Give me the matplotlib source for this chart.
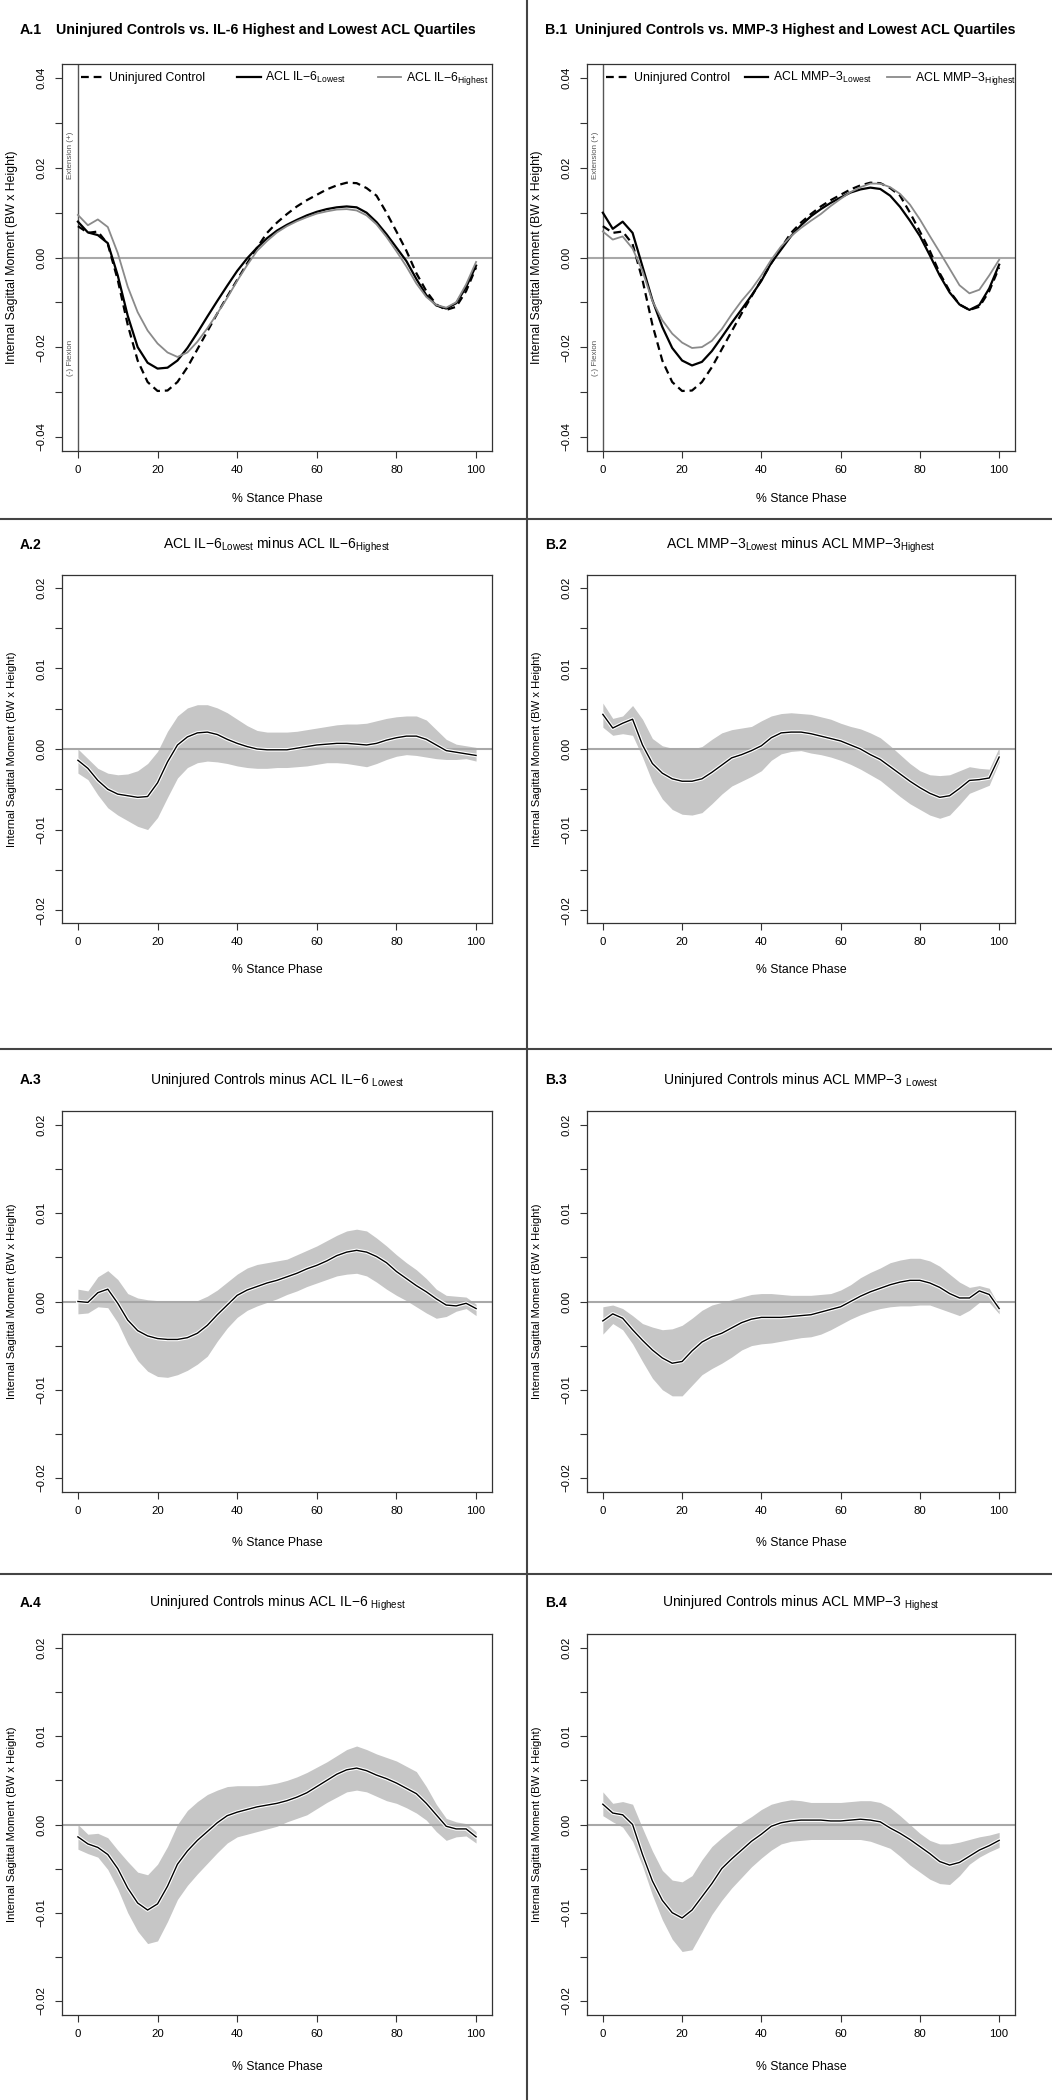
"""
Knee sagittal moment curves: controls vs. ACL IL-6 / MMP-3 quartiles, plus difference bands.
Writes out.png (1052 x 2100).
"""
import matplotlib
matplotlib.use("Agg")
import matplotlib.pyplot as plt
import matplotlib.patheffects as pe
from matplotlib.lines import Line2D

plt.rcParams["font.family"] = ["Liberation Sans", "DejaVu Sans"]
plt.rcParams["mathtext.fontset"] = "custom"
plt.rcParams["mathtext.rm"] = "Liberation Sans"
plt.rcParams["mathtext.it"] = "Liberation Sans:italic"
plt.rcParams["mathtext.bf"] = "Liberation Sans:bold"

W, H = 1052, 2100

# ---- data (% stance every 2.5) ----
stance = [0, 2.5, 5, 7.5, 10, 12.5, 15, 17.5, 20, 22.5, 25, 27.5, 30, 32.5, 35, 37.5, 40,
          42.5, 45, 47.5, 50, 52.5, 55, 57.5, 60, 62.5, 65, 67.5, 70, 72.5, 75, 77.5, 80,
          82.5, 85, 87.5, 90, 92.5, 95, 97.5, 100]

control = [0.0070, 0.0055, 0.0058, 0.0030, -0.0050, -0.0150, -0.0230, -0.0278, -0.0298, -0.0297,
           -0.0278, -0.0245, -0.0205, -0.0165, -0.0125, -0.0087, -0.0050, -0.0013, 0.0022, 0.0055,
           0.0078, 0.0097, 0.0114, 0.0128, 0.0140, 0.0152, 0.0161, 0.0167, 0.0166, 0.0155,
           0.0138, 0.0100, 0.0058, 0.0015, -0.0035, -0.0075, -0.0105, -0.0117, -0.0110, -0.0075,
           -0.0022]
il6_low = [0.0080, 0.0056, 0.0050, 0.0032, -0.0040, -0.0130, -0.0200, -0.0235, -0.0248, -0.0246,
           -0.0230, -0.0202, -0.0168, -0.0132, -0.0097, -0.0063, -0.0030, -0.0002, 0.0022, 0.0043,
           0.0060, 0.0073, 0.0084, 0.0094, 0.0102, 0.0108, 0.0112, 0.0114, 0.0112, 0.0100,
           0.0079, 0.0052, 0.0022, -0.0008, -0.0048, -0.0084, -0.0107, -0.0114, -0.0102, -0.0066,
           -0.0018]
il6_high = [0.0095, 0.0072, 0.0085, 0.0068, 0.0010, -0.0065, -0.0122, -0.0163, -0.0192, -0.0212,
            -0.0222, -0.0212, -0.0188, -0.0158, -0.0125, -0.0090, -0.0052, -0.0017, 0.0015, 0.0037,
            0.0056, 0.0070, 0.0081, 0.0090, 0.0098, 0.0103, 0.0107, 0.0108, 0.0105, 0.0094,
            0.0074, 0.0046, 0.0014, -0.0020, -0.0058, -0.0088, -0.0106, -0.0112, -0.0100, -0.0060,
            -0.0010]
mmp3_low = [0.0100, 0.0064, 0.0080, 0.0055, -0.0020, -0.0095, -0.0155, -0.0202, -0.0230, -0.0241,
            -0.0233, -0.0209, -0.0178, -0.0146, -0.0116, -0.0085, -0.0052, -0.0012, 0.0018, 0.0048,
            0.0072, 0.0092, 0.0108, 0.0122, 0.0134, 0.0145, 0.0152, 0.0156, 0.0153, 0.0138,
            0.0113, 0.0082, 0.0048, 0.0005, -0.0040, -0.0078, -0.0105, -0.0117, -0.0106, -0.0069,
            -0.0016]
mmp3_high = [0.0058, 0.0040, 0.0047, 0.0020, -0.0030, -0.0097, -0.0140, -0.0170, -0.0190, -0.0202,
             -0.0200, -0.0186, -0.0160, -0.0127, -0.0097, -0.0071, -0.0040, -0.0005, 0.0025, 0.0048,
             0.0066, 0.0082, 0.0097, 0.0115, 0.0131, 0.0146, 0.0157, 0.0165, 0.0165, 0.0157,
             0.0142, 0.0118, 0.0085, 0.0048, 0.0012, -0.0025, -0.0062, -0.0080, -0.0072, -0.0040,
             -0.0005]

# A.2  IL-6 lowest minus highest
a2_mean = [-0.0014, -0.0024, -0.0039, -0.0050, -0.0056, -0.0058, -0.0060, -0.0059, -0.0042, -0.0016,
           0.0005, 0.0015, 0.0020, 0.0021, 0.0018, 0.0012, 0.0007, 0.0003, 0.0000, -0.0001,
           -0.0001, -0.0001, 0.0001, 0.0003, 0.0005, 0.0006, 0.0007, 0.0007, 0.0006, 0.0005,
           0.0007, 0.0011, 0.0014, 0.0016, 0.0016, 0.0012, 0.0005, -0.0002, -0.0004, -0.0006,
           -0.0008]
a2_upper = [0.0000, -0.0012, -0.0024, -0.0030, -0.0032, -0.0031, -0.0027, -0.0018, -0.0003, 0.0022,
            0.0041, 0.0051, 0.0055, 0.0055, 0.0051, 0.0045, 0.0037, 0.0029, 0.0023, 0.0021,
            0.0021, 0.0021, 0.0022, 0.0024, 0.0026, 0.0028, 0.0030, 0.0031, 0.0031, 0.0032,
            0.0035, 0.0038, 0.0040, 0.0041, 0.0041, 0.0036, 0.0024, 0.0012, 0.0006, 0.0004,
            0.0002]
a2_lower = [-0.0030, -0.0038, -0.0057, -0.0073, -0.0082, -0.0089, -0.0096, -0.0100, -0.0085, -0.0060,
            -0.0036, -0.0023, -0.0017, -0.0015, -0.0016, -0.0018, -0.0021, -0.0023, -0.0024, -0.0024,
            -0.0023, -0.0023, -0.0022, -0.0021, -0.0019, -0.0017, -0.0017, -0.0018, -0.0020, -0.0022,
            -0.0018, -0.0013, -0.0009, -0.0007, -0.0008, -0.0010, -0.0012, -0.0013, -0.0013, -0.0012,
            -0.0015]

# B.2  MMP-3 lowest minus highest
b2_mean = [0.0043, 0.0026, 0.0032, 0.0037, 0.0005, -0.0018, -0.0030, -0.0037, -0.0040, -0.0040,
           -0.0037, -0.0029, -0.0020, -0.0011, -0.0007, -0.0002, 0.0004, 0.0014, 0.0020, 0.0021,
           0.0021, 0.0019, 0.0016, 0.0013, 0.0010, 0.0005, 0.0000, -0.0007, -0.0013, -0.0022,
           -0.0031, -0.0040, -0.0048, -0.0055, -0.0060, -0.0058, -0.0049, -0.0039, -0.0038, -0.0036,
           -0.0010]
b2_upper = [0.0057, 0.0038, 0.0041, 0.0054, 0.0037, 0.0013, 0.0004, 0.0001, 0.0000, 0.0000,
            0.0003, 0.0012, 0.0020, 0.0024, 0.0026, 0.0028, 0.0035, 0.0041, 0.0044, 0.0045,
            0.0044, 0.0043, 0.0040, 0.0037, 0.0032, 0.0028, 0.0025, 0.0020, 0.0014, 0.0004,
            -0.0007, -0.0018, -0.0027, -0.0032, -0.0033, -0.0032, -0.0027, -0.0022, -0.0024, -0.0025,
            0.0002]
b2_lower = [0.0027, 0.0017, 0.0019, 0.0017, -0.0010, -0.0041, -0.0062, -0.0075, -0.0081, -0.0082,
            -0.0079, -0.0068, -0.0056, -0.0046, -0.0040, -0.0034, -0.0027, -0.0014, -0.0006, -0.0003,
            -0.0002, -0.0005, -0.0007, -0.0010, -0.0014, -0.0019, -0.0025, -0.0032, -0.0039, -0.0049,
            -0.0059, -0.0068, -0.0075, -0.0082, -0.0086, -0.0082, -0.0069, -0.0055, -0.0050, -0.0045,
            -0.0016]

# A.3  controls minus IL-6 lowest
a3_mean = [0.0000, -0.0001, 0.0010, 0.0014, -0.0002, -0.0021, -0.0033, -0.0039, -0.0042, -0.0043,
           -0.0043, -0.0041, -0.0036, -0.0027, -0.0015, -0.0004, 0.0007, 0.0013, 0.0017, 0.0021,
           0.0024, 0.0028, 0.0032, 0.0037, 0.0041, 0.0046, 0.0052, 0.0056, 0.0058, 0.0056,
           0.0051, 0.0044, 0.0034, 0.0026, 0.0018, 0.0011, 0.0003, -0.0004, -0.0005, -0.0002,
           -0.0008]
a3_upper = [0.0014, 0.0012, 0.0028, 0.0035, 0.0025, 0.0009, 0.0004, 0.0002, 0.0001, 0.0000,
            0.0000, 0.0000, 0.0001, 0.0006, 0.0013, 0.0022, 0.0031, 0.0038, 0.0042, 0.0044,
            0.0046, 0.0048, 0.0053, 0.0058, 0.0063, 0.0069, 0.0075, 0.0080, 0.0082, 0.0080,
            0.0072, 0.0063, 0.0053, 0.0044, 0.0036, 0.0026, 0.0014, 0.0007, 0.0006, 0.0005,
            -0.0003]
a3_lower = [-0.0014, -0.0013, -0.0006, -0.0007, -0.0024, -0.0048, -0.0067, -0.0079, -0.0085, -0.0086,
            -0.0083, -0.0078, -0.0071, -0.0062, -0.0045, -0.0030, -0.0018, -0.0010, -0.0005, -0.0001,
            0.0003, 0.0008, 0.0012, 0.0017, 0.0021, 0.0025, 0.0029, 0.0031, 0.0032, 0.0029,
            0.0022, 0.0014, 0.0007, 0.0001, -0.0006, -0.0013, -0.0019, -0.0017, -0.0011, -0.0008,
            -0.0016]

# B.3  controls minus MMP-3 lowest
b3_mean = [-0.0022, -0.0014, -0.0019, -0.0032, -0.0044, -0.0055, -0.0064, -0.0070, -0.0068, -0.0056,
           -0.0046, -0.0040, -0.0036, -0.0030, -0.0024, -0.0020, -0.0018, -0.0018, -0.0018, -0.0017,
           -0.0016, -0.0015, -0.0012, -0.0009, -0.0006, 0.0000, 0.0006, 0.0011, 0.0015, 0.0019,
           0.0022, 0.0024, 0.0024, 0.0021, 0.0016, 0.0009, 0.0004, 0.0004, 0.0012, 0.0008,
           -0.0008]
b3_upper = [-0.0006, -0.0004, -0.0008, -0.0016, -0.0025, -0.0029, -0.0032, -0.0031, -0.0027, -0.0019,
            -0.0010, -0.0004, -0.0001, 0.0002, 0.0005, 0.0008, 0.0009, 0.0009, 0.0008, 0.0007,
            0.0007, 0.0007, 0.0008, 0.0009, 0.0013, 0.0019, 0.0027, 0.0033, 0.0038, 0.0044,
            0.0047, 0.0049, 0.0049, 0.0046, 0.0040, 0.0031, 0.0022, 0.0016, 0.0018, 0.0015,
            -0.0005]
b3_lower = [-0.0037, -0.0025, -0.0032, -0.0048, -0.0068, -0.0087, -0.0100, -0.0107, -0.0107, -0.0095,
            -0.0083, -0.0076, -0.0070, -0.0063, -0.0055, -0.0050, -0.0048, -0.0047, -0.0045, -0.0043,
            -0.0041, -0.0040, -0.0037, -0.0032, -0.0026, -0.0020, -0.0015, -0.0011, -0.0008, -0.0006,
            -0.0005, -0.0005, -0.0004, -0.0004, -0.0008, -0.0012, -0.0016, -0.0010, -0.0001, -0.0001,
            -0.0014]

# A.4  controls minus IL-6 highest
a4_mean = [-0.0014, -0.0022, -0.0026, -0.0034, -0.0050, -0.0072, -0.0089, -0.0097, -0.0090, -0.0070,
           -0.0045, -0.0030, -0.0018, -0.0008, 0.0002, 0.0010, 0.0014, 0.0017, 0.0020, 0.0022,
           0.0024, 0.0027, 0.0031, 0.0036, 0.0043, 0.0050, 0.0057, 0.0062, 0.0064, 0.0061,
           0.0056, 0.0052, 0.0047, 0.0041, 0.0035, 0.0024, 0.0011, -0.0002, -0.0005, -0.0005,
           -0.0014]
a4_upper = [0.0000, -0.0011, -0.0010, -0.0015, -0.0029, -0.0042, -0.0054, -0.0057, -0.0045, -0.0025,
            0.0000, 0.0016, 0.0026, 0.0034, 0.0039, 0.0043, 0.0044, 0.0044, 0.0044, 0.0045,
            0.0047, 0.0050, 0.0054, 0.0059, 0.0065, 0.0071, 0.0078, 0.0085, 0.0089, 0.0085,
            0.0080, 0.0076, 0.0072, 0.0066, 0.0060, 0.0043, 0.0023, 0.0007, 0.0003, 0.0001,
            -0.0008]
a4_lower = [-0.0028, -0.0033, -0.0037, -0.0051, -0.0073, -0.0100, -0.0121, -0.0135, -0.0132, -0.0110,
            -0.0085, -0.0069, -0.0056, -0.0044, -0.0032, -0.0021, -0.0014, -0.0011, -0.0008, -0.0005,
            -0.0002, 0.0003, 0.0007, 0.0011, 0.0018, 0.0025, 0.0031, 0.0037, 0.0039, 0.0037,
            0.0032, 0.0027, 0.0024, 0.0019, 0.0013, 0.0005, -0.0008, -0.0018, -0.0014, -0.0013,
            -0.0021]

# B.4  controls minus MMP-3 highest
b4_mean = [0.0023, 0.0013, 0.0011, 0.0000, -0.0034, -0.0064, -0.0086, -0.0100, -0.0106, -0.0097,
           -0.0082, -0.0067, -0.0050, -0.0039, -0.0029, -0.0019, -0.0011, -0.0002, 0.0002, 0.0004,
           0.0005, 0.0005, 0.0005, 0.0004, 0.0004, 0.0005, 0.0006, 0.0005, 0.0003, -0.0004,
           -0.0010, -0.0017, -0.0025, -0.0033, -0.0042, -0.0046, -0.0043, -0.0036, -0.0029, -0.0024,
           -0.0018]
b4_upper = [0.0037, 0.0024, 0.0026, 0.0023, -0.0004, -0.0030, -0.0052, -0.0063, -0.0065, -0.0058,
            -0.0040, -0.0025, -0.0015, -0.0006, 0.0002, 0.0009, 0.0017, 0.0023, 0.0026, 0.0028,
            0.0027, 0.0025, 0.0025, 0.0025, 0.0025, 0.0026, 0.0027, 0.0027, 0.0025, 0.0019,
            0.0010, 0.0000, -0.0010, -0.0018, -0.0022, -0.0022, -0.0020, -0.0017, -0.0014, -0.0012,
            -0.0009]
b4_lower = [0.0010, 0.0003, -0.0003, -0.0019, -0.0047, -0.0080, -0.0108, -0.0130, -0.0144, -0.0142,
            -0.0122, -0.0102, -0.0086, -0.0072, -0.0060, -0.0048, -0.0038, -0.0029, -0.0022, -0.0019,
            -0.0018, -0.0017, -0.0017, -0.0017, -0.0017, -0.0017, -0.0017, -0.0019, -0.0023, -0.0027,
            -0.0036, -0.0046, -0.0054, -0.0062, -0.0067, -0.0068, -0.0058, -0.0045, -0.0037, -0.0031,
            -0.0026]

stance_ticks = [0, 20, 40, 60, 80, 100]
main_ticks = [-0.04, -0.03, -0.02, -0.01, 0.0, 0.01, 0.02, 0.03, 0.04]
main_labels = ["\u22120.04", "", "\u22120.02", "", "0.00", "", "0.02", "", "0.04"]
diff_ticks = [-0.02, -0.015, -0.01, -0.005, 0.0, 0.005, 0.01, 0.015, 0.02]
diff_labels = ["\u22120.02", "", "\u22120.01", "", "0.00", "", "0.01", "", "0.02"]

YLAB = "Internal Sagittal Moment (BW x Height)"
XLAB = "% Stance Phase"
SUB_LO = r"$_{\mathrm{Lowest}}$"
SUB_HI = r"$_{\mathrm{Highest}}$"

C_AX = "#333333"
C_ZERO = "#a8a8a8"
C_BAND = "#c6c6c6"
C_GRAY = "#8a8a8a"

fig = plt.figure(figsize=(W / 100, H / 100), dpi=100)


def px_axes(left, top, right, bottom):
    return fig.add_axes([left / W, 1 - bottom / H, (right - left) / W, (bottom - top) / H])


def ftext(x, y, s, **kw):
    fig.text(x / W, 1 - y / H, s, **kw)


def style(ax, ticks, labels, ylim, box, xlab_off, ylab_off, ylab_size):
    left, top, right, bottom = box
    ax.set_xlim(-4, 104)
    ax.set_ylim(*ylim)
    ax.set_xticks(stance_ticks)
    ax.set_yticks(ticks)
    ax.set_yticklabels(labels)
    ax.tick_params(direction="out", length=5, width=0.8, color=C_AX, labelsize=8.2, pad=5)
    ax.tick_params(axis="y", labelrotation=90, pad=6)
    for lbl in ax.get_yticklabels():
        lbl.set_verticalalignment("center")
    for sp in ax.spines.values():
        sp.set_color(C_AX)
        sp.set_linewidth(0.9)
    ax.set_xlabel(XLAB, fontsize=8.8)
    ax.xaxis.set_label_coords(0.5, -xlab_off / (bottom - top))
    ax.xaxis.label.set_verticalalignment("center")
    ax.set_ylabel(YLAB, fontsize=ylab_size)
    ax.yaxis.set_label_coords(-ylab_off / (right - left), 0.5)
    ax.yaxis.label.set_verticalalignment("center")


def main_panel(box, tag, title, low, high, name, lspacing):
    ax = px_axes(*box)
    ax.axhline(0, color=C_ZERO, lw=1.5, zorder=1)
    ax.axvline(0, color="#555555", lw=1.0, zorder=1)
    ax.plot(stance, control, color="black", lw=1.6, dashes=(3.5, 2.2), label="Uninjured Control", zorder=3)
    ax.plot(stance, low, color="black", lw=1.6, label=name + SUB_LO, zorder=4)
    ax.plot(stance, high, color=C_GRAY, lw=1.3, label=name + SUB_HI, zorder=5)
    ax.text(-1.8, 0.0228, "Extension (+)", rotation=90, ha="center", va="center", fontsize=5.8, color="#555555")
    ax.text(-1.8, -0.0225, "(-) Flexion", rotation=90, ha="center", va="center", fontsize=5.8, color="#555555")
    ax.legend(loc="upper left", bbox_to_anchor=(0.045, 0.985), ncol=3, frameon=False, fontsize=8.8,
              handlelength=1.9, handletextpad=0.4, columnspacing=lspacing, borderpad=0, borderaxespad=0)
    style(ax, main_ticks, main_labels, (-0.0432, 0.0432), box, 48, 50, 8.8)
    ftext(box[0] - 42, 30, tag, fontsize=10.3, fontweight="bold", va="center", ha="left")
    ftext(box[0] - 6 if tag == "A.1" else box[0] - 12, 30, title, fontsize=10.3, fontweight="bold",
          va="center", ha="left")
    return ax


def diff_panel(box, tag, title, title_y, mean, lower, upper, xlab_off):
    ax = px_axes(*box)
    ax.fill_between(stance, lower, upper, color=C_BAND, lw=0, zorder=1)
    ax.axhline(0, color=C_ZERO, lw=1.5, zorder=2)
    ax.plot(stance, mean, color="black", lw=1.0, zorder=3,
            path_effects=[pe.Stroke(linewidth=2.6, foreground="white"), pe.Normal()])
    style(ax, diff_ticks, diff_labels, (-0.0216, 0.0216), box, xlab_off, 50, 8.1)
    ftext(box[0] - 42, title_y, tag, fontsize=10, fontweight="bold", va="center", ha="left")
    ftext((box[0] + box[2]) / 2, title_y, title, fontsize=10, va="center", ha="center")
    return ax


A_X = (62, 492)
B_X = (587, 1015)
rows = [(64, 451), (575, 923), (1111, 1492), (1634, 2015)]

main_panel((A_X[0], rows[0][0], A_X[1], rows[0][1]), "A.1",
           "Uninjured Controls vs. IL-6 Highest and Lowest ACL Quartiles", il6_low, il6_high, "ACL IL\u22126", 2.6)
main_panel((B_X[0], rows[0][0], B_X[1], rows[0][1]), "B.1",
           "Uninjured Controls vs. MMP-3 Highest and Lowest ACL Quartiles", mmp3_low, mmp3_high, "ACL MMP\u22123", 1.2)

diff_panel((A_X[0], rows[1][0], A_X[1], rows[1][1]), "A.2",
           "ACL IL\u22126" + SUB_LO + " minus ACL IL\u22126" + SUB_HI, 545, a2_mean, a2_lower, a2_upper, 47)
diff_panel((B_X[0], rows[1][0], B_X[1], rows[1][1]), "B.2",
           "ACL MMP\u22123" + SUB_LO + " minus ACL MMP\u22123" + SUB_HI, 545, b2_mean, b2_lower, b2_upper, 47)
diff_panel((A_X[0], rows[2][0], A_X[1], rows[2][1]), "A.3",
           "Uninjured Controls minus ACL IL\u22126 " + SUB_LO, 1080, a3_mean, a3_lower, a3_upper, 51)
diff_panel((B_X[0], rows[2][0], B_X[1], rows[2][1]), "B.3",
           "Uninjured Controls minus ACL MMP\u22123 " + SUB_LO, 1080, b3_mean, b3_lower, b3_upper, 51)
diff_panel((A_X[0], rows[3][0], A_X[1], rows[3][1]), "A.4",
           "Uninjured Controls minus ACL IL\u22126 " + SUB_HI, 1603, a4_mean, a4_lower, a4_upper, 52)
diff_panel((B_X[0], rows[3][0], B_X[1], rows[3][1]), "B.4",
           "Uninjured Controls minus ACL MMP\u22123 " + SUB_HI, 1603, b4_mean, b4_lower, b4_upper, 52)

# panel separators
for yy in (519, 1049, 1574):
    fig.add_artist(Line2D([0, 1], [1 - yy / H, 1 - yy / H], transform=fig.transFigure, color="#444444", lw=1.5))
fig.add_artist(Line2D([527 / W, 527 / W], [0, 1], transform=fig.transFigure, color="#444444", lw=1.5))

fig.savefig("out.png", dpi=100, facecolor="white")
